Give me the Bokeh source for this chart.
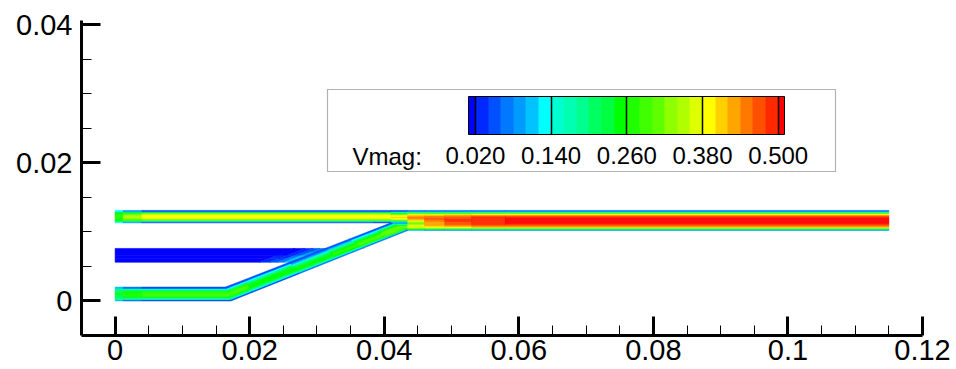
from bokeh.plotting import figure
from bokeh.models import (Range1d, FixedTicker, ColorBar, LinearColorMapper,
                          BoxAnnotation, Label, PrintfTickFormatter)
from bokeh.embed import file_html
from bokeh.resources import INLINE

# ---------------------------------------------------------------------------
# Contour levels of velocity magnitude: one colour per 0.02 band
# ---------------------------------------------------------------------------
LEVEL_STEP = 0.02
BAND_COLORS = ["#0000ff", "#0028ff", "#0050ff", "#0078ff", "#009bff", "#00c3ff", "#00ffff",
               "#00ffd0", "#00ffb0", "#00ff90", "#00ff60", "#00ff40", "#00ff00",
               "#20ff00", "#40ff00", "#60ff00", "#90ff00", "#b0ff00", "#ddff00",
               "#ffff00", "#ffd000", "#ffa500", "#ff7800", "#ff5000", "#ff2800", "#ff0000"]
LEGEND_TICKS = [0.02, 0.14, 0.26, 0.38, 0.50]
VMAG_MIN, VMAG_MAX = 0.009, 0.51

X_TICKS = [0.0, 0.02, 0.04, 0.06, 0.08, 0.10, 0.12]
X_MINOR = [0.005, 0.01, 0.015, 0.025, 0.03, 0.035, 0.045, 0.05, 0.055, 0.065, 0.07, 0.075,
           0.085, 0.09, 0.095, 0.105, 0.11, 0.115]
Y_TICKS = [0.0, 0.02, 0.04]
Y_MINOR = [0.005, 0.01, 0.015, 0.025, 0.03, 0.035]

# ---------------------------------------------------------------------------
# Geometry (m)
# ---------------------------------------------------------------------------
UPPER_Y = (0.0113, 0.0131)      # upper inlet channel walls
MIDDLE_Y = (0.0056, 0.0076)     # middle (side) inlet channel walls
LOWER_Y = (0.0000, 0.0020)      # lower inlet channel walls
OUTLET_Y = (0.0102, 0.0131)     # outlet channel walls
# inclined connector walls, (x_start, y_start, x_end, y_end)
CONNECTOR_UPPER_WALL = (0.0164, 0.0020, 0.0410, 0.0113)
CONNECTOR_LOWER_WALL = (0.0172, 0.0000, 0.0435, 0.0102)

# ---------------------------------------------------------------------------
# Velocity magnitude profiles, listed from the lower wall to the upper wall,
# one profile per stretch between consecutive stations
# ---------------------------------------------------------------------------
upper_x = [0.0, 0.0012, 0.004, 0.0385, 0.041]
upper_profiles = [
    [0.12, 0.22, 0.25, 0.26, 0.26, 0.26, 0.26, 0.25, 0.22, 0.12],
    [0.08, 0.20, 0.28, 0.32, 0.34, 0.34, 0.32, 0.28, 0.20, 0.08],
    [0.05, 0.19, 0.31, 0.37, 0.39, 0.39, 0.38, 0.32, 0.20, 0.05],
    [0.03, 0.17, 0.30, 0.37, 0.39, 0.39, 0.38, 0.32, 0.20, 0.05],
]

lower_x = [0.0, 0.0012, 0.004, 0.0172]
lower_profiles = [
    [0.10, 0.18, 0.21, 0.22, 0.22, 0.22, 0.22, 0.21, 0.18, 0.10],
    [0.07, 0.17, 0.23, 0.25, 0.26, 0.26, 0.25, 0.23, 0.17, 0.07],
    [0.05, 0.15, 0.22, 0.26, 0.28, 0.28, 0.26, 0.22, 0.15, 0.05],
]

# middle inlet: stations given as horizontal distance from the connector's upper wall
middle_wall_offset = [0.032, 0.0045, 0.003, 0.0018, 0.0008, 0.0]
middle_profiles = [
    [0.01, 0.01, 0.01, 0.01],
    [0.02, 0.02, 0.01, 0.01],
    [0.04, 0.03, 0.03, 0.02],
    [0.07, 0.06, 0.05, 0.04],
    [0.11, 0.10, 0.08, 0.06],
]

# stations along the connector as fractions of its length
connector_t = [0.0, 0.12, 0.387, 0.602, 0.75, 0.9, 1.0]
connector_profiles = [
    [0.05, 0.16, 0.23, 0.27, 0.28, 0.28, 0.26, 0.21, 0.13, 0.04],
    [0.05, 0.15, 0.21, 0.24, 0.25, 0.25, 0.23, 0.19, 0.13, 0.04],
    [0.06, 0.16, 0.22, 0.25, 0.25, 0.23, 0.19, 0.14, 0.09, 0.05],
    [0.06, 0.17, 0.24, 0.27, 0.27, 0.25, 0.21, 0.16, 0.10, 0.04],
    [0.06, 0.18, 0.26, 0.29, 0.29, 0.27, 0.24, 0.19, 0.12, 0.04],
    [0.07, 0.20, 0.28, 0.31, 0.31, 0.30, 0.27, 0.22, 0.14, 0.04],
]

outlet_x = [0.041, 0.0435, 0.046, 0.049, 0.053, 0.058, 0.115]
outlet_profiles = [
    [0.15, 0.22, 0.27, 0.30, 0.30, 0.25, 0.15, 0.08, 0.10, 0.20,
     0.30, 0.36, 0.39, 0.40, 0.39, 0.36, 0.31, 0.24, 0.15, 0.05],
    [0.10, 0.24, 0.32, 0.36, 0.37, 0.36, 0.33, 0.30, 0.32, 0.37,
     0.41, 0.43, 0.44, 0.44, 0.43, 0.41, 0.36, 0.28, 0.17, 0.06],
    [0.09, 0.22, 0.32, 0.38, 0.41, 0.42, 0.42, 0.42, 0.43, 0.44,
     0.45, 0.46, 0.46, 0.45, 0.44, 0.41, 0.36, 0.27, 0.16, 0.06],
    [0.09, 0.21, 0.33, 0.39, 0.43, 0.45, 0.46, 0.47, 0.47, 0.48,
     0.48, 0.48, 0.47, 0.46, 0.45, 0.42, 0.37, 0.27, 0.16, 0.06],
    [0.08, 0.20, 0.33, 0.40, 0.44, 0.46, 0.48, 0.49, 0.49, 0.49,
     0.49, 0.49, 0.49, 0.48, 0.46, 0.43, 0.38, 0.28, 0.16, 0.06],
    [0.08, 0.20, 0.33, 0.40, 0.44, 0.47, 0.49, 0.50, 0.505, 0.505,
     0.505, 0.505, 0.50, 0.49, 0.47, 0.43, 0.38, 0.28, 0.16, 0.07],
]


def band_color(v):
    return BAND_COLORS[max(0, min(int(v / LEVEL_STEP), len(BAND_COLORS) - 1))]


def channel_cells(x_edges, walls, profiles):
    """Horizontal channel: one rectangle per station stretch and profile strip."""
    y0, y1 = walls
    cells = dict(left=[], right=[], bottom=[], top=[], color=[])
    for k, prof in enumerate(profiles):
        n = len(prof)
        for i, v in enumerate(prof):
            cells["left"].append(x_edges[k])
            cells["right"].append(x_edges[k + 1])
            cells["bottom"].append(y0 + (y1 - y0) * i / n)
            cells["top"].append(y0 + (y1 - y0) * (i + 1) / n)
            cells["color"].append(band_color(v))
    return cells


def upper_wall_x(y):
    ux0, uy0, ux1, uy1 = CONNECTOR_UPPER_WALL
    return ux0 + (y - uy0) / (uy1 - uy0) * (ux1 - ux0)


def middle_cells(offsets, walls, profiles):
    """Middle inlet: strips whose stations run parallel to the connector wall."""
    y0, y1 = walls
    xs, ys, colors = [], [], []
    for k, prof in enumerate(profiles):
        n = len(prof)
        for i, v in enumerate(prof):
            ya, yb = y0 + (y1 - y0) * i / n, y0 + (y1 - y0) * (i + 1) / n
            xa0 = max(0.0, upper_wall_x(ya) - offsets[k])
            xa1 = max(0.0, upper_wall_x(ya) - offsets[k + 1])
            xb0 = max(0.0, upper_wall_x(yb) - offsets[k])
            xb1 = max(0.0, upper_wall_x(yb) - offsets[k + 1])
            xs.append([xa0, xa1, xb1, xb0])
            ys.append([ya, ya, yb, yb])
            colors.append(band_color(v))
    return dict(xs=xs, ys=ys, color=colors)


def connector_cells(t_edges, profiles):
    """Inclined connector: quadrilaterals between its two walls."""
    ux0, uy0, ux1, uy1 = CONNECTOR_UPPER_WALL
    lx0, ly0, lx1, ly1 = CONNECTOR_LOWER_WALL

    def point(t, s):
        ux, uy = ux0 + (ux1 - ux0) * t, uy0 + (uy1 - uy0) * t
        lx, ly = lx0 + (lx1 - lx0) * t, ly0 + (ly1 - ly0) * t
        return lx + (ux - lx) * s, ly + (uy - ly) * s

    xs, ys, colors = [], [], []
    for k, prof in enumerate(profiles):
        t0, t1 = t_edges[k], t_edges[k + 1]
        n = len(prof)
        for i, v in enumerate(prof):
            s0, s1 = i / n, (i + 1) / n
            corners = [point(t0, s0), point(t1, s0), point(t1, s1), point(t0, s1)]
            xs.append([c[0] for c in corners])
            ys.append([c[1] for c in corners])
            colors.append(band_color(v))
    return dict(xs=xs, ys=ys, color=colors)


p = figure(width=956, height=369,
           x_range=Range1d(-0.005, 0.12), y_range=Range1d(-0.005, 0.04058),
           output_backend="svg", toolbar_location=None,
           min_border_left=81, min_border_right=34, min_border_top=20, min_border_bottom=34)
p.outline_line_color = None
p.grid.visible = False
p.background_fill_color = "white"
p.border_fill_color = "white"

for x_edges, walls, profs in [(upper_x, UPPER_Y, upper_profiles),
                              (lower_x, LOWER_Y, lower_profiles),
                              (outlet_x, OUTLET_Y, outlet_profiles)]:
    c = channel_cells(x_edges, walls, profs)
    p.quad(left=c["left"], right=c["right"], bottom=c["bottom"], top=c["top"],
           fill_color=c["color"], line_color=c["color"], line_width=0.6)

mc = middle_cells(middle_wall_offset, MIDDLE_Y, middle_profiles)
p.patches(xs=mc["xs"], ys=mc["ys"], fill_color=mc["color"], line_color=mc["color"],
          line_width=0.6)

cc = connector_cells(connector_t, connector_profiles)
p.patches(xs=cc["xs"], ys=cc["ys"], fill_color=cc["color"], line_color=cc["color"],
          line_width=0.6)

# axes
for ax, ticks, minor in [(p.xaxis[0], X_TICKS, X_MINOR), (p.yaxis[0], Y_TICKS, Y_MINOR)]:
    ax.ticker = FixedTicker(ticks=ticks, minor_ticks=minor)
    ax.formatter = PrintfTickFormatter(format="%g")
    ax.axis_line_width = 3
    ax.axis_line_color = "black"
    ax.major_tick_in = 19
    ax.major_tick_out = 0
    ax.major_tick_line_width = 3
    ax.minor_tick_in = 10
    ax.minor_tick_out = 0
    ax.minor_tick_line_width = 1
    ax.major_label_text_font = "Liberation Sans"
    ax.major_label_text_font_size = "29px"
    ax.major_label_text_color = "black"
p.xaxis[0].major_label_standoff = 4
p.yaxis[0].major_label_standoff = 9

# contour legend
p.add_layout(BoxAnnotation(left=246, right=754, top=246, bottom=164,
                           left_units="screen", right_units="screen",
                           top_units="screen", bottom_units="screen",
                           fill_color="white", fill_alpha=1.0,
                           line_color="black", line_width=1.2), "center")

# colour bar: bands of 0.02 shown over the data range
n_bar = 501
bar_palette = [band_color(VMAG_MIN + (i + 0.5) * (VMAG_MAX - VMAG_MIN) / n_bar)
               for i in range(n_bar)]
mapper = LinearColorMapper(palette=bar_palette, low=VMAG_MIN, high=VMAG_MAX)
cbar = ColorBar(color_mapper=mapper, orientation="horizontal", width=316, height=38,
                ticker=FixedTicker(ticks=LEGEND_TICKS, minor_ticks=[]),
                formatter=PrintfTickFormatter(format="%.3f"),
                major_label_text_font="Liberation Sans", major_label_text_font_size="24px",
                major_label_text_color="black",
                major_tick_in=38, major_tick_out=0, major_tick_line_color="black",
                major_tick_line_width=1.5, minor_tick_line_color=None,
                bar_line_color="black", bar_line_width=1,
                label_standoff=12, padding=0, margin=0,
                background_fill_alpha=0, border_line_color=None,
                location=(387, 169))
p.add_layout(cbar, "center")

p.add_layout(Label(x=271, y=179, x_units="screen", y_units="screen", text="Vmag:",
                   text_font="Liberation Sans", text_font_size="24px",
                   text_color="black", text_baseline="alphabetic"), "center")

open("out.html", "w").write(file_html(p, INLINE))
